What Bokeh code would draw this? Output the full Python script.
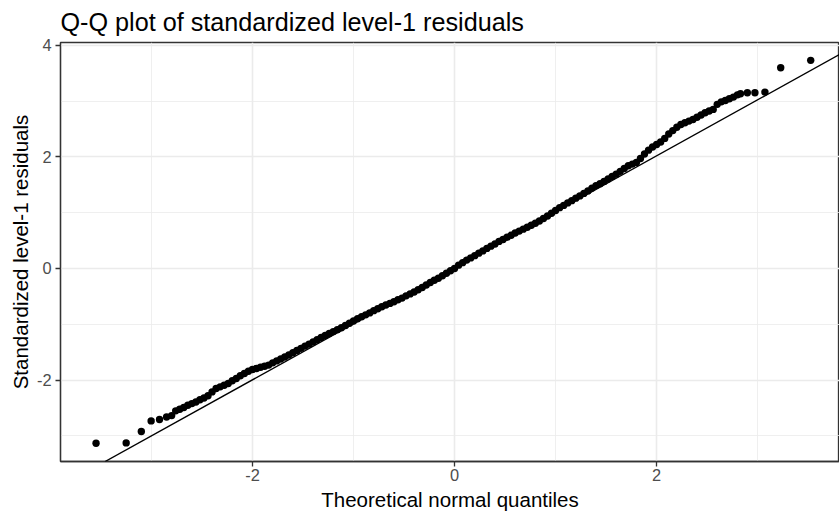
from bokeh.plotting import figure
from bokeh.models import FixedTicker, Range1d, Slope
from bokeh.embed import file_html
from bokeh.resources import INLINE

# Q-Q data (theoretical quantile, standardized residual)
theoretical = [
    -3.548, -3.25, -3.10, -3.003, -2.92, -2.85, -2.80,
    -2.76, -2.72, -2.68, -2.64, -2.60, -2.56, -2.52, -2.48, -2.44, -2.40,
    -2.36, -2.32, -2.28, -2.24, -2.20, -2.16, -2.12, -2.08, -2.04, -2.00,
    -1.96, -1.92, -1.88, -1.84, -1.80, -1.76, -1.72, -1.68, -1.64, -1.60,
    -1.56, -1.52, -1.48, -1.44, -1.40, -1.36, -1.32, -1.28, -1.24, -1.20,
    -1.16, -1.12, -1.08, -1.04, -1.00, -0.96, -0.92, -0.88, -0.84, -0.80,
    -0.76, -0.72, -0.68, -0.64, -0.60, -0.56, -0.52, -0.48, -0.44, -0.40,
    -0.36, -0.32, -0.28, -0.24, -0.20, -0.16, -0.12, -0.08, -0.04, 0.00,
    0.04, 0.08, 0.12, 0.16, 0.20, 0.24, 0.28, 0.32, 0.36, 0.40,
    0.44, 0.48, 0.52, 0.56, 0.60, 0.64, 0.68, 0.72, 0.76, 0.80,
    0.84, 0.88, 0.92, 0.96, 1.00, 1.04, 1.08, 1.12, 1.16, 1.20,
    1.24, 1.28, 1.32, 1.36, 1.40, 1.44, 1.48, 1.52, 1.56, 1.60,
    1.64, 1.68, 1.72, 1.76, 1.80, 1.84, 1.88, 1.92, 1.96, 2.00,
    2.04, 2.08, 2.12, 2.16, 2.20, 2.24, 2.28, 2.32, 2.36, 2.40,
    2.44, 2.48, 2.52, 2.56, 2.60, 2.64, 2.68, 2.72, 2.76, 2.80,
    2.83, 2.898, 2.973, 3.072, 3.228, 3.525,
]
residuals = [
    -3.131, -3.124, -2.92, -2.73, -2.706, -2.66, -2.635,
    -2.55, -2.52, -2.49, -2.45, -2.42, -2.39, -2.35, -2.32, -2.28, -2.21,
    -2.15, -2.12, -2.09, -2.06, -2.01, -1.97, -1.92, -1.88, -1.84, -1.81,
    -1.79, -1.77, -1.75, -1.73, -1.69, -1.655, -1.62, -1.585, -1.55, -1.51,
    -1.47, -1.43, -1.39, -1.355, -1.315, -1.275, -1.235, -1.20, -1.165, -1.13,
    -1.095, -1.06, -1.02, -0.98, -0.94, -0.90, -0.865, -0.83, -0.795, -0.755,
    -0.72, -0.685, -0.655, -0.625, -0.595, -0.56, -0.53, -0.49, -0.455, -0.42,
    -0.38, -0.34, -0.295, -0.25, -0.21, -0.175, -0.13, -0.085, -0.04, 0.00,
    0.06, 0.105, 0.15, 0.19, 0.23, 0.275, 0.315, 0.36, 0.40, 0.44,
    0.485, 0.52, 0.56, 0.595, 0.635, 0.67, 0.705, 0.74, 0.775, 0.81,
    0.85, 0.895, 0.94, 0.99, 1.04, 1.09, 1.13, 1.175, 1.215, 1.26,
    1.30, 1.345, 1.39, 1.44, 1.485, 1.52, 1.56, 1.605, 1.65, 1.69,
    1.74, 1.79, 1.84, 1.87, 1.90, 1.97, 2.05, 2.12, 2.175, 2.22,
    2.265, 2.33, 2.41, 2.47, 2.53, 2.58, 2.61, 2.64, 2.67, 2.71,
    2.75, 2.79, 2.82, 2.85, 2.94, 2.985, 3.01, 3.04, 3.07, 3.11,
    3.13, 3.148, 3.148, 3.16, 3.597, 3.728,
]

# reference line (qqline) parameters
line_slope = 1.003
line_intercept = 0.012

x_ticks = [-2, 0, 2]
x_minor = [-3, -1, 1, 3]
y_ticks = [-2, 0, 2, 4]
y_minor = [-3, -1, 1, 3]
x_labels = {-2: "-2", 0: "0", 2: "2"}
y_labels = {-2: "-2", 0: "0", 2: "2", 4: "4"}

FONT = "Liberation Sans"

p = figure(
    width=839, height=514,
    output_backend="svg", toolbar_location=None,
    x_range=Range1d(-3.90, 3.81), y_range=Range1d(-3.457, 4.048),
    min_border_left=60, min_border_right=0,
    min_border_top=42, min_border_bottom=53,
    title="Q-Q plot of standardized level-1 residuals",
)
p.background_fill_color = "white"
p.border_fill_color = "white"
p.outline_line_color = "#333333"
p.outline_line_width = 1.3

p.title.text_font = FONT
p.title.text_font_size = "25.2px"
p.title.text_font_style = "normal"
p.title.text_color = "black"
p.title.align = "left"
p.title.standoff = 10
p.title.vertical_align = "top"

p.xaxis.ticker = FixedTicker(ticks=x_ticks, minor_ticks=x_minor)
p.yaxis.ticker = FixedTicker(ticks=y_ticks, minor_ticks=y_minor)
p.xaxis.major_label_overrides = x_labels
p.yaxis.major_label_overrides = y_labels

for ax in (p.xaxis[0], p.yaxis[0]):
    ax.axis_line_color = "#333333"
    ax.axis_line_width = 1.3
    ax.major_tick_line_color = "#333333"
    ax.major_tick_line_width = 1.3
    ax.major_tick_out = 5
    ax.major_tick_in = 0
    ax.minor_tick_line_color = None
    ax.major_label_text_font = FONT
    ax.major_label_text_font_size = "16.4px"
    ax.major_label_text_color = "#4D4D4D"
    ax.axis_label_text_font = FONT
    ax.axis_label_text_font_size = "20.5px"
    ax.axis_label_text_font_style = "normal"
    ax.axis_label_text_color = "black"

p.xaxis.major_label_standoff = 2
p.yaxis.major_label_standoff = 4
p.xaxis.axis_label = "Theoretical normal quantiles"
p.yaxis.axis_label = "Standardized level-1 residuals"
p.xaxis.axis_label_standoff = 4
p.yaxis.axis_label_standoff = 2

for g in (p.xgrid[0], p.ygrid[0]):
    g.grid_line_color = "#EBEBEB"
    g.grid_line_width = 1.6
    g.minor_grid_line_color = "#EBEBEB"
    g.minor_grid_line_width = 0.8

p.scatter(theoretical, residuals, size=7.4, color="black", line_width=0)
p.add_layout(Slope(gradient=line_slope, y_intercept=line_intercept,
                   line_color="black", line_width=1.4))

open("out.html", "w").write(file_html(p, INLINE))
